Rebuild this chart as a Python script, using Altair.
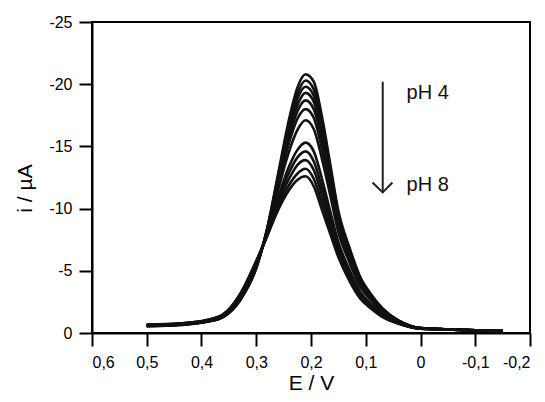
import altair as alt
import pandas as pd

# Potential grid (V)
E = [0.50, 0.44, 0.39, 0.36, 0.33, 0.30, 0.28, 0.26, 0.24, 0.225, 0.21, 0.195,
     0.18, 0.165, 0.15, 0.13, 0.11, 0.09, 0.07, 0.04, 0.0, -0.05, -0.10, -0.15]

# Current (µA) for each voltammogram, pH 4 (largest) ... pH 8 (smallest)
c1 = [-0.55, -0.65, -0.9, -1.3, -2.6, -5.2, -8.4, -12.8, -17.2, -19.7, -20.8, -20.2,
      -17.4, -13.6, -9.8, -6.9, -4.5, -3.1, -2.0, -1.0, -0.4, -0.3, -0.22, -0.15]
c2 = [-0.55, -0.65, -0.9, -1.3, -2.62, -5.25, -8.4, -12.6, -16.9, -19.2, -20.3, -19.6,
      -16.9, -13.3, -9.6, -6.7, -4.4, -3.0, -2.0, -1.0, -0.4, -0.3, -0.22, -0.15]
c3 = [-0.57, -0.67, -0.92, -1.32, -2.66, -5.3, -8.3, -12.5, -16.5, -18.8, -19.8, -19.1,
      -16.5, -12.9, -9.4, -6.6, -4.3, -3.0, -1.9, -1.0, -0.4, -0.3, -0.22, -0.15]
c4 = [-0.58, -0.68, -0.93, -1.34, -2.72, -5.35, -8.3, -12.3, -16.2, -18.3, -19.3, -18.6,
      -16.0, -12.6, -9.1, -6.4, -4.2, -2.9, -1.9, -0.95, -0.4, -0.3, -0.22, -0.15]
c5 = [-0.6, -0.7, -0.95, -1.36, -2.78, -5.4, -8.2, -12.1, -15.7, -17.8, -18.7, -18.0,
      -15.5, -12.2, -8.9, -6.2, -4.1, -2.8, -1.8, -0.94, -0.39, -0.3, -0.21, -0.15]
c6 = [-0.6, -0.7, -0.96, -1.38, -2.82, -5.45, -8.2, -11.8, -15.3, -17.2, -18.0, -17.3,
      -14.8, -11.7, -8.5, -6.0, -3.9, -2.7, -1.8, -0.9, -0.38, -0.29, -0.21, -0.15]
c7 = [-0.62, -0.72, -0.98, -1.4, -2.87, -5.5, -8.1, -11.5, -14.6, -16.3, -17.1, -16.4,
      -14.0, -11.1, -8.1, -5.7, -3.7, -2.6, -1.7, -0.9, -0.38, -0.29, -0.21, -0.15]
c8 = [-0.63, -0.73, -1.0, -1.43, -2.93, -5.6, -8.0, -10.9, -13.4, -14.7, -15.3, -14.6,
      -12.4, -9.8, -7.3, -5.1, -3.3, -2.3, -1.5, -0.8, -0.37, -0.29, -0.21, -0.15]
c9 = [-0.64, -0.74, -1.01, -1.45, -2.97, -5.65, -8.0, -10.6, -12.9, -14.1, -14.6, -13.8,
      -11.7, -9.4, -7.0, -4.9, -3.2, -2.2, -1.5, -0.8, -0.36, -0.28, -0.2, -0.15]
c10 = [-0.65, -0.75, -1.02, -1.47, -3.02, -5.7, -7.9, -10.4, -12.4, -13.5, -13.9, -13.1,
       -11.1, -8.9, -6.7, -4.6, -3.0, -2.1, -1.4, -0.8, -0.36, -0.28, -0.2, -0.15]
c11 = [-0.66, -0.76, -1.04, -1.5, -3.06, -5.75, -7.8, -10.1, -11.9, -12.8, -13.2, -12.4,
       -10.5, -8.4, -6.4, -4.4, -2.9, -2.0, -1.35, -0.77, -0.35, -0.28, -0.2, -0.15]
c12 = [-0.67, -0.77, -1.05, -1.52, -3.1, -5.8, -7.8, -9.9, -11.5, -12.3, -12.6, -11.8,
       -9.9, -8.0, -6.1, -4.2, -2.75, -1.95, -1.3, -0.75, -0.35, -0.28, -0.2, -0.15]
curves = [c1, c2, c3, c4, c5, c6, c7, c8, c9, c10, c11, c12]

x_ticks = [0.6, 0.5, 0.4, 0.3, 0.2, 0.1, 0.0, -0.1, -0.2]
y_ticks = [-25, -20, -15, -10, -5, 0]

# Annotation: arrow pH 4 -> pH 8
arrow_x = [0.069]
arrow_top = [-20.2]
arrow_bottom = [-11.3]
head_x = [0.0877, 0.069, 0.0512]
head_y = [-12.1, -11.3, -12.1]
label_text = ["pH 4", "pH 8"]
label_x = [0.0254, 0.0254]
label_y = [-19.3, -11.9]

rows = []
for k, c in enumerate(curves):
    for e, v in zip(E, c):
        rows.append({"series": f"s{k}", "E": e, "i": v})
df = pd.DataFrame(rows)

fmt = "replace(replace(format(datum.value, '~g'), '.', ','), '\u2212', '-')"
FONT = "Liberation Sans"

xscale = alt.Scale(domain=[-0.2, 0.6], reverse=True, nice=False)
yscale = alt.Scale(domain=[-25, 0], reverse=True, nice=False)

xaxis = alt.Axis(values=x_ticks, labelExpr=fmt, title="E / V", grid=False,
                 tickSize=13, tickWidth=2, tickColor="black", domainColor="black",
                 domainWidth=2, labelFont=FONT, labelFontSize=16, labelColor="black",
                 labelPadding=8, titleFont=FONT, titleFontSize=21, titleFontWeight="normal",
                 titleColor="black", titleY=50, titleBaseline="middle")
yaxis = alt.Axis(values=y_ticks, labelExpr=fmt, title="i / µA", grid=False,
                 tickSize=13, tickWidth=2, tickColor="black", domainColor="black",
                 domainWidth=2, labelFont=FONT, labelFontSize=16, labelColor="black",
                 labelPadding=7, titleFont=FONT, titleFontSize=21, titleFontWeight="normal",
                 titleColor="black", titleX=-67, titleY=166, titleBaseline="middle",
                 titleAlign="center")

lines = alt.Chart(df).mark_line(interpolate="monotone", color="#111111",
                                strokeWidth=2.6).encode(
    x=alt.X("E:Q", scale=xscale, axis=xaxis),
    y=alt.Y("i:Q", scale=yscale, axis=yaxis),
    detail="series:N",
)

shaft = alt.Chart(pd.DataFrame({"x": arrow_x, "y": arrow_top, "y2": arrow_bottom})).mark_rule(
    color="#222222", strokeWidth=2).encode(
    x=alt.X("x:Q", scale=xscale), y=alt.Y("y:Q", scale=yscale), y2="y2:Q")

head = alt.Chart(pd.DataFrame({"x": head_x, "y": head_y, "k": [0, 1, 2]})).mark_line(
    color="#222222", strokeWidth=2).encode(
    x=alt.X("x:Q", scale=xscale), y=alt.Y("y:Q", scale=yscale), order="k:Q")

labels = alt.Chart(pd.DataFrame({"t": label_text, "x": label_x, "y": label_y})).mark_text(
    align="left", baseline="middle", font=FONT, fontSize=20, color="#111111").encode(
    x=alt.X("x:Q", scale=xscale), y=alt.Y("y:Q", scale=yscale), text="t:N")

chart = alt.layer(lines, shaft, head, labels).properties(
    width=438, height=311,
    autosize=alt.AutoSizeParams(type="none"),
    padding={"left": 84, "top": 14, "right": 7, "bottom": 61},
).configure_view(stroke="black", strokeWidth=2)

chart.save("out.html", embed_options={"renderer": "svg", "actions": False})
